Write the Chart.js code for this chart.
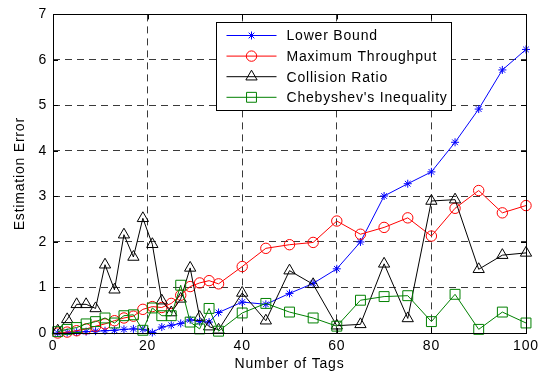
<!DOCTYPE html>
<html>
<head>
<meta charset="utf-8">
<script src="https://cdn.jsdelivr.net/npm/chart.js@4.4.1/dist/chart.umd.min.js"></script>
<style>
  html, body { margin: 0; padding: 0; background: #fff; }
  #wrap { width: 549px; height: 374px; position: relative; }
</style>
</head>
<body>
<div id="wrap"><canvas id="c" width="549" height="374"></canvas></div>
<script>
// Number of tags simulated
const tags = [1, 3, 5, 7, 9, 11, 13, 15, 17, 19, 21, 23, 25, 27, 29, 31, 33, 35,
              40, 45, 50, 55, 60, 65, 70, 75, 80, 85, 90, 95, 100];

// Estimation error of each estimator
const lowerBound = [0.00, 0.01, 0.02, 0.03, 0.04, 0.05, 0.06, 0.08, 0.09, 0.08, 0.01, 0.13, 0.17, 0.21, 0.29, 0.25, 0.24, 0.45,
                    0.68, 0.63, 0.87, 1.09, 1.41, 2.00, 3.01, 3.28, 3.54, 4.19, 4.92, 5.78, 6.23];
const maxThroughput = [0.00, 0.02, 0.05, 0.09, 0.15, 0.20, 0.27, 0.33, 0.37, 0.52, 0.58, 0.56, 0.65, 0.83, 1.02, 1.10, 1.15, 1.08,
                       1.46, 1.86, 1.94, 1.99, 2.46, 2.17, 2.32, 2.53, 2.13, 2.74, 3.13, 2.64, 2.80];
const collisionRatio = [0.05, 0.30, 0.63, 0.63, 0.54, 1.50, 0.95, 2.16, 1.67, 2.52, 1.95, 0.71, 0.45, 0.75, 1.43, 0.35, 0.14, 0.07,
                        0.88, 0.27, 1.37, 1.07, 0.16, 0.19, 1.52, 0.32, 2.90, 2.93, 1.40, 1.71, 1.76];
const chebyshev = [0.03, 0.08, 0.12, 0.20, 0.25, 0.33, 0.22, 0.38, 0.40, 0.06, 0.55, 0.38, 0.38, 1.05, 0.24, 0.09, 0.54, 0.04,
                   0.44, 0.65, 0.46, 0.33, 0.15, 0.72, 0.80, 0.82, 0.25, 0.85, 0.08, 0.46, 0.22];

// Axis ticks
const xTicks = [0, 20, 40, 60, 80, 100];
const yTicks = [0, 1, 2, 3, 4, 5, 6, 7];

const FONT = 'Liberation Sans, Arial, Helvetica, sans-serif';
const LETTER_SPACING = '0.8px';

const toPoints = vals => tags.map((t, i) => ({ x: t, y: vals[i] }));

function series(label, vals, color, style, radius, order) {
  return {
    label,
    data: toPoints(vals),
    borderColor: color,
    borderWidth: 1,
    pointStyle: style,
    pointRadius: radius,
    pointHoverRadius: radius,
    pointBorderColor: color,
    pointBackgroundColor: 'rgba(0,0,0,0)',
    pointBorderWidth: 1,
    tension: 0,
    fill: false,
    clip: false,
    order
  };
}

// Slightly wider text spacing for every label on the canvas
const spacing = {
  id: 'spacing',
  beforeUpdate(chart) { chart.ctx.letterSpacing = LETTER_SPACING; },
  beforeDraw(chart) { chart.ctx.letterSpacing = LETTER_SPACING; }
};

// Box, inward tick marks and inset legend
const frame = {
  id: 'frame',
  afterDraw(chart) {
    const { ctx, chartArea: a, scales: { x, y } } = chart;
    ctx.save();
    ctx.strokeStyle = '#000';
    ctx.lineWidth = 1;
    ctx.setLineDash([]);
    ctx.strokeRect(Math.round(a.left) + 0.5, Math.round(a.top) + 0.5,
                   Math.round(a.right - a.left), Math.round(a.bottom - a.top));
    const tl = 5;
    ctx.beginPath();
    xTicks.forEach(v => {
      const px = Math.round(x.getPixelForValue(v)) + 0.5;
      ctx.moveTo(px, a.bottom); ctx.lineTo(px, a.bottom - tl);
      ctx.moveTo(px, a.top); ctx.lineTo(px, a.top + tl);
    });
    yTicks.forEach(v => {
      const py = Math.round(y.getPixelForValue(v)) + 0.5;
      ctx.moveTo(a.left, py); ctx.lineTo(a.left + tl, py);
      ctx.moveTo(a.right, py); ctx.lineTo(a.right - tl, py);
    });
    ctx.stroke();

    // legend
    const lx = Math.round(a.left) + 163.5, ly = Math.round(a.top) + 8.5;
    const lw = 235, lh = 88;
    ctx.fillStyle = '#fff';
    ctx.fillRect(lx, ly, lw, lh);
    ctx.strokeRect(lx, ly, lw, lh);
    ctx.font = '14px ' + FONT;
    ctx.letterSpacing = LETTER_SPACING;
    ctx.textBaseline = 'middle';
    ctx.textAlign = 'left';
    chart.data.datasets.forEach((ds, i) => {
      const cy = ly + 13 + i * 20.6;
      ctx.strokeStyle = ds.borderColor;
      ctx.lineWidth = 1;
      ctx.beginPath();
      ctx.moveTo(lx + 10, cy); ctx.lineTo(lx + 60, cy);
      ctx.stroke();
      ctx.fillStyle = 'rgba(0,0,0,0)';
      Chart.helpers.drawPoint(ctx, {
        pointStyle: ds.pointStyle, radius: ds.pointRadius, borderWidth: 1, rotation: 0
      }, lx + 35, cy);
      ctx.fillStyle = '#000';
      ctx.fillText(ds.label, lx + 70, cy + 1);
    });
    ctx.restore();
  }
};

const gridColor = ctx => (ctx.tick && (ctx.tick.value === ctx.scale.min || ctx.tick.value === ctx.scale.max))
  ? 'rgba(0,0,0,0)' : '#3a3a3a';

new Chart(document.getElementById('c'), {
  type: 'line',
  data: {
    datasets: [
      series('Lower Bound', lowerBound, '#0000ff', 'star', 4, 3),
      series('Maximum Throughput', maxThroughput, '#ff0000', 'circle', 5.2, 2),
      series('Collision Ratio', collisionRatio, '#000000', 'triangle', 6.5, 1),
      series("Chebyshev's Inequality", chebyshev, '#008000', 'rect', 7, 0)
    ]
  },
  options: {
    responsive: false,
    animation: false,
    devicePixelRatio: 1,
    layout: { padding: { left: 0, right: 23, top: 11, bottom: 0 } },
    plugins: { legend: { display: false }, tooltip: { enabled: false } },
    scales: {
      x: {
        type: 'linear', min: 0, max: 100,
        afterBuildTicks: s => { s.ticks = xTicks.map(v => ({ value: v })); },
        afterFit: s => { s.height = 41; },
        ticks: { color: '#000', font: { family: FONT, size: 14 }, padding: 5, maxRotation: 0 },
        grid: { color: gridColor, drawTicks: false, lineWidth: 1 },
        border: { display: false, dash: [7, 5] },
        title: { display: true, text: 'Number of Tags', color: '#000',
                 font: { family: FONT, size: 14 }, padding: { top: 0, bottom: 1 } }
      },
      y: {
        type: 'linear', min: 0, max: 7,
        afterBuildTicks: s => { s.ticks = yTicks.map(v => ({ value: v })); },
        afterFit: s => { s.width = 53; },
        ticks: { color: '#000', font: { family: FONT, size: 14 }, padding: 6 },
        grid: { color: gridColor, drawTicks: false, lineWidth: 1 },
        border: { display: false, dash: [7, 5] },
        title: { display: true, text: 'Estimation Error', color: '#000',
                 font: { family: FONT, size: 14 }, padding: { top: 12, bottom: 0 } }
      }
    }
  },
  plugins: [spacing, frame]
});
</script>
</body>
</html>
